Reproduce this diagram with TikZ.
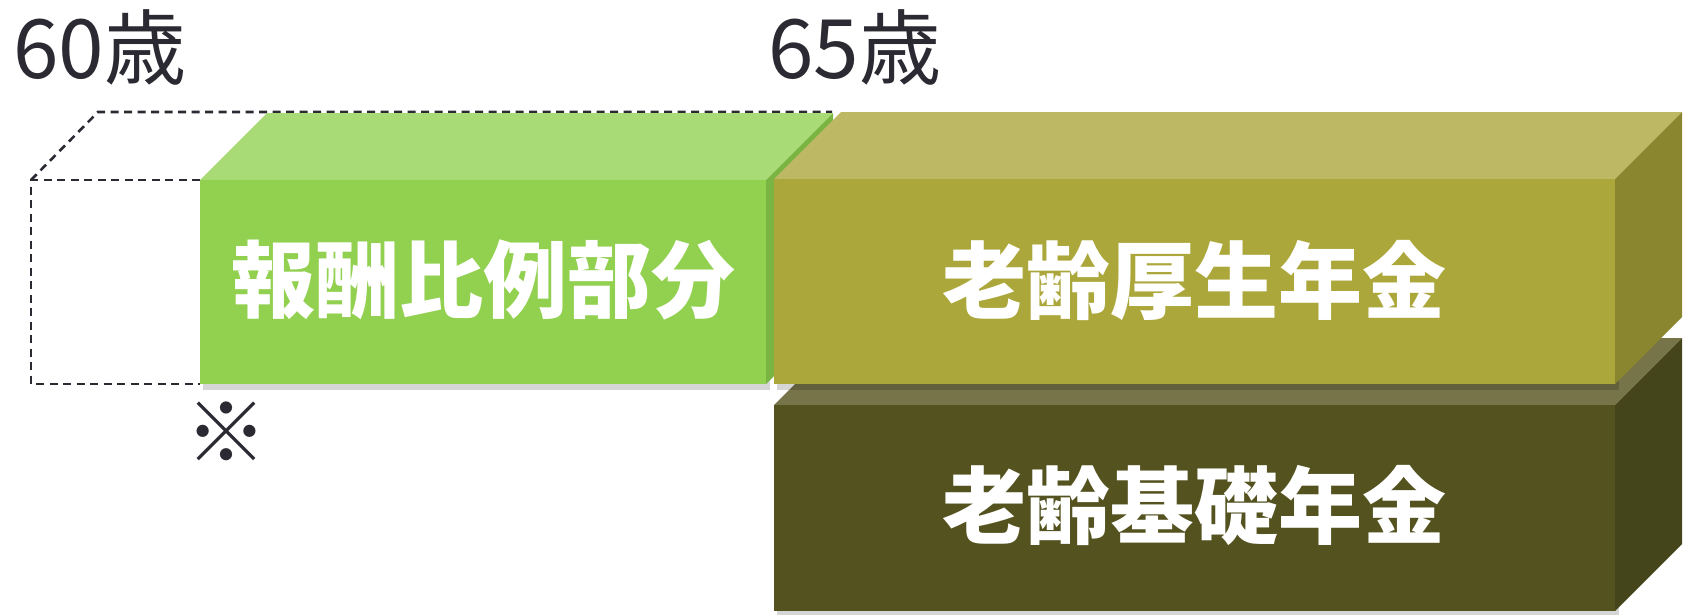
\documentclass[tikz,border=0pt]{standalone}
\usepackage{fontspec}
\newfontfamily\cjk{Noto Sans CJK JP}
\definecolor{gfront}{HTML}{92D050}
\definecolor{gtop}{HTML}{A8DA76}
\definecolor{gside}{HTML}{7AB443}
\definecolor{ofront}{HTML}{ABA73B}
\definecolor{otop}{HTML}{BDB863}
\definecolor{oside}{HTML}{8A862F}
\definecolor{dfront}{HTML}{545320}
\definecolor{dtop}{HTML}{777449}
\definecolor{dside}{HTML}{45451B}
\definecolor{ink}{HTML}{2B2A33}
\tikzset{
  agelabel/.style={inner sep=0pt, anchor=base west, text=ink, font=\cjk\fontsize{82}{82}\selectfont},
  boxlabel/.style={inner sep=0pt, text=white, font=\cjk\bfseries\fontsize{84}{84}\selectfont},
  dashline/.style={draw=ink, line width=2.6pt, dash pattern=on 8pt off 5.5pt},
  shadowfill/.style={fill=black, opacity=0.16},
}
\newcommand\mycuboid[7]{% x1 y1 x2 y2 front top side
  \fill[shadowfill] (#1+3,#2+5) rectangle (#3+4,#4+6);
  \fill[#6] (#1,#2) -- (#1+67,#2-67) -- (#3+67,#2-67) -- (#3,#2) -- cycle;
  \fill[#7] (#3,#2) -- (#3+67,#2-67) -- (#3+67,#4-67) -- (#3,#4) -- cycle;
  \fill[#5] (#1,#2) rectangle (#3,#4);
}
\begin{document}
\begin{tikzpicture}[x=1pt,y=-1pt]
\useasboundingbox (0,0) rectangle (1692,614);
% dashed outline of earlier period
\draw[dashline] (200,180) -- (31,180) -- (31,384) -- (200,384);
\draw[dashline] (31,180) -- (98,112) -- (832,112);
% green box
\mycuboid{200}{180}{766}{384}{gfront}{gtop}{gside}
% basic pension box
\mycuboid{774}{405}{1615}{611}{dfront}{dtop}{dside}
% employee pension box
\mycuboid{774}{179}{1615}{384}{ofront}{otop}{oside}
% labels
\node[agelabel] (age60) at (13,78) {60歳};
\node[agelabel] (age65) at (768,78) {65歳};
\node[boxlabel] (hoshu) at (483,280) {報酬比例部分};
\node[boxlabel] (kosei) at (1194,280) {老齢厚生年金};
\node[boxlabel] (kiso) at (1194,505) {老齢基礎年金};
\node[inner sep=0pt, text=ink, font=\cjk\fontsize{82}{82}\selectfont] (kome) at (226,432) {※};
\end{tikzpicture}
\end{document}
